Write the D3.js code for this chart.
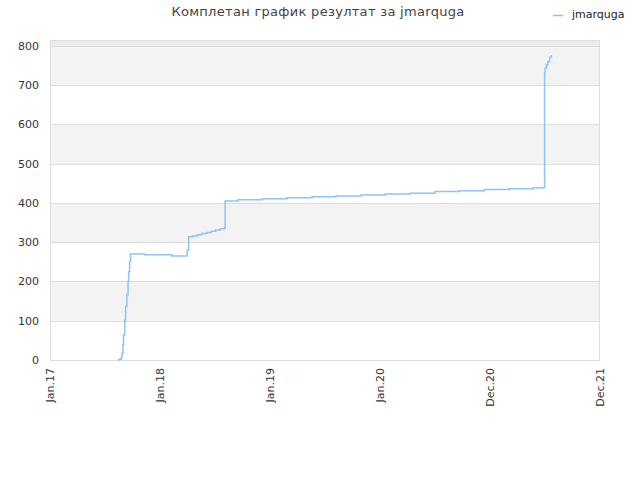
<!DOCTYPE html>
<html>
<head>
<meta charset="utf-8">
<style>
  body { margin: 0; background: #fff; }
  text { font-family: "DejaVu Sans", sans-serif; }
</style>
</head>
<body>
<svg width="640" height="480"></svg>
<script src="https://d3js.org/d3.v7.min.js"></script>
<script>

const title = "Комплетан график резултат за jmarquga";
const seriesName = "jmarquga";

// dates where the score changed, and the score from that date on
const dates = [
  "2017-08-15", "2017-08-18", "2017-08-26", "2017-08-28", "2017-08-31",
  "2017-09-02", "2017-09-06", "2017-09-09", "2017-09-13", "2017-09-17",
  "2017-09-19", "2017-09-22", "2017-09-25", "2017-11-11", "2018-02-09",
  "2018-04-01", "2018-04-06", "2018-04-20", "2018-05-05", "2018-05-20",
  "2018-06-05", "2018-06-20", "2018-07-05", "2018-07-20", "2018-08-04",
  "2018-08-05", "2018-09-17", "2018-12-06",
  "2019-02-27", "2019-05-21", "2019-08-08", "2019-10-30", "2020-01-18",
  "2020-04-10", "2020-07-02", "2020-09-20", "2020-12-12", "2021-03-04",
  "2021-05-23", "2021-06-30", "2021-07-02", "2021-07-06", "2021-07-11",
  "2021-07-17", "2021-07-23"
];
const scores = [
  0, 2, 8, 17, 38,
  64, 102, 136, 166, 200,
  225, 250, 270, 268, 265,
  280, 314, 316, 319, 322,
  325, 328, 331, 334, 337,
  405, 408, 411,
  413, 416, 418, 420, 423,
  425, 429, 431, 434, 436,
  439, 732, 743, 752, 760,
  771, 777
];

const yTicks = [0, 100, 200, 300, 400, 500, 600, 700, 800];
const xTickDates = ["2017-01-01", "2018-01-01", "2019-01-01", "2020-01-01", "2020-12-31", "2021-12-31"];
const xDomain = ["2017-01-01", "2021-12-31"];
const yMax = 815;

const parse = d3.timeParse("%Y-%m-%d");
const fmt = d3.timeFormat("%b.%y");

const data = dates.map((d, i) => ({ date: parse(d), value: scores[i] }));

const svg = d3.select("svg");
const plotLeft = 50, plotRight = 600, plotTop = 40, plotBottom = 360;

const x = d3.scaleTime()
  .domain(xDomain.map(parse))
  .range([plotLeft, plotRight]);

const y = d3.scaleLinear()
  .domain([0, yMax])
  .range([plotBottom, plotTop]);

// bands
const bands = svg.append("g");
bands.append("rect")
  .attr("x", plotLeft).attr("y", plotTop)
  .attr("width", plotRight - plotLeft).attr("height", y(800) - plotTop)
  .attr("fill", "#ececec");
bands.selectAll("rect.band")
  .data(yTicks.slice(0, -1))
  .enter()
  .append("rect")
  .attr("class", "band")
  .attr("x", plotLeft)
  .attr("y", function(d) { return y(d + 100); })
  .attr("width", plotRight - plotLeft)
  .attr("height", function(d) { return y(d) - y(d + 100); })
  .attr("fill", function(d) { return (d / 100) % 2 === 1 ? "#f3f3f3" : "#ffffff"; });

// grid lines
svg.append("g")
  .selectAll("line")
  .data(yTicks)
  .enter()
  .append("line")
  .attr("x1", plotLeft).attr("x2", plotRight)
  .attr("y1", function(d) { return Math.round(y(d)) + 0.5; })
  .attr("y2", function(d) { return Math.round(y(d)) + 0.5; })
  .attr("stroke", "#dddddd");

// frame
svg.append("rect")
  .attr("x", plotLeft + 0.5).attr("y", plotTop + 0.5)
  .attr("width", plotRight - plotLeft - 1).attr("height", plotBottom - plotTop)
  .attr("fill", "none")
  .attr("stroke", "#dddddd");

// y labels
svg.append("g")
  .selectAll("text")
  .data(yTicks)
  .enter()
  .append("text")
  .attr("x", 39)
  .attr("y", function(d) { return y(d) + 4; })
  .attr("text-anchor", "end")
  .attr("font-size", 11)
  .attr("fill", "#333")
  .text(function(d) { return d; });

// x labels
svg.append("g")
  .selectAll("text")
  .data(xTickDates.map(parse))
  .enter()
  .append("text")
  .attr("transform", function(d) { return "translate(" + (x(d) + 4) + ",368) rotate(-90)"; })
  .attr("text-anchor", "end")
  .attr("font-size", 11)
  .attr("fill", "#333")
  .text(function(d) { return fmt(d); });

// line
const line = d3.line()
  .x(function(d) { return x(d.date); })
  .y(function(d) { return y(d.value); })
  .curve(d3.curveStepAfter);

svg.append("path")
  .datum(data)
  .attr("d", line)
  .attr("fill", "none")
  .attr("stroke", "#90c2f4")
  .attr("stroke-width", 1.5);

// title
svg.append("text")
  .attr("x", 318)
  .attr("y", 16)
  .attr("text-anchor", "middle")
  .attr("font-size", 13)
  .attr("letter-spacing", 0.3)
  .attr("fill", "#444")
  .text(title);

// legend
svg.append("line")
  .attr("x1", 553).attr("x2", 563)
  .attr("y1", 15.5).attr("y2", 15.5)
  .attr("stroke", "#90c2f4")
  .attr("stroke-width", 1.5);
svg.append("text")
  .attr("x", 572)
  .attr("y", 18)
  .attr("font-size", 11)
  .attr("fill", "#222")
  .text(seriesName);

</script>
</body>
</html>
